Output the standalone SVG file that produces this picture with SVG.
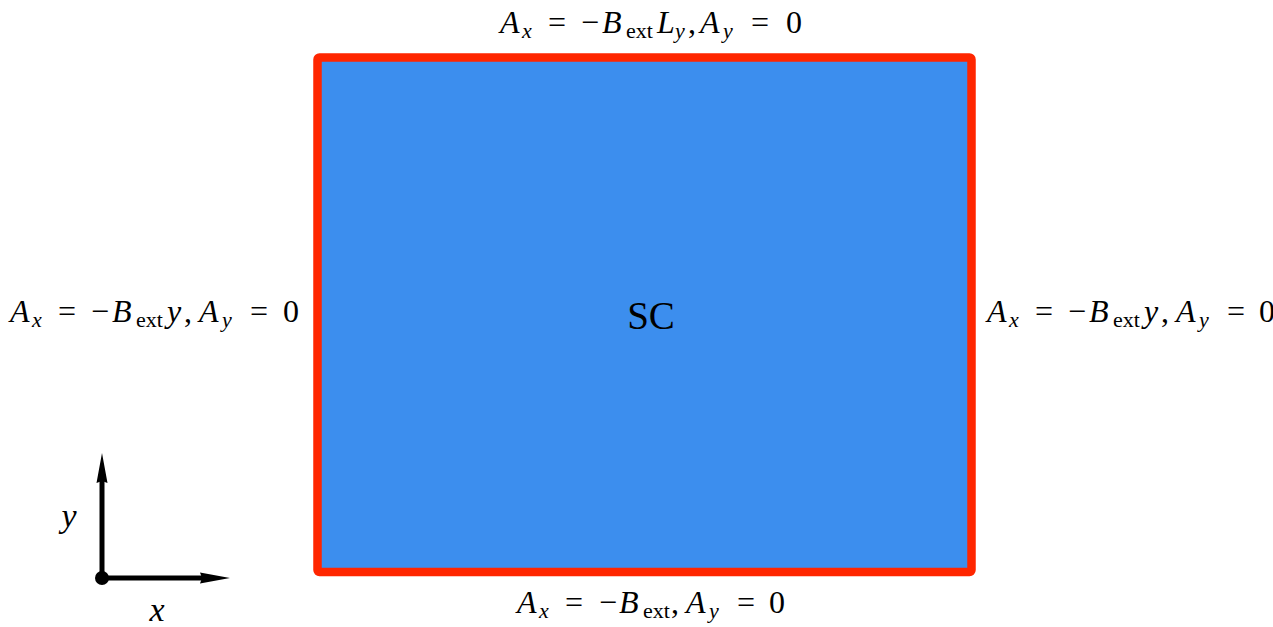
<svg xmlns="http://www.w3.org/2000/svg" width="1273" height="627" viewBox="0 0 1273 627">
<style>
text{fill:#000;font-family:"Liberation Serif","Times New Roman",serif;}
.lbl{font-size:32px;}
.i{font-style:italic;}
.s{font-size:22px;}
.ax{stroke:#000;stroke-width:5;fill:none;}
</style>
<defs>
<marker id="arr" markerUnits="userSpaceOnUse" markerWidth="32" markerHeight="14" refX="5" refY="6" orient="auto" overflow="visible">
<path d="M0,0.5 L30,6 L0,11.5 L2,6 Z" fill="#000"/>
</marker>
</defs>
<rect width="1273" height="627" fill="#fff"/>
<g id="sc">
<rect x="317.5" y="57.5" width="654" height="514.5" rx="2" fill="#3c8eee" stroke="#ff2600" stroke-width="8.5" stroke-linejoin="round"/>
<text x="651" y="329" font-size="39" text-anchor="middle">SC</text>
</g>
<g id="top-label">
<text class="lbl" y="33"><tspan class="i" x="500">A</tspan><tspan class="i s" x="522" y="38">x</tspan><tspan x="548" y="33">=</tspan><tspan x="581">−</tspan><tspan class="i" x="602">B</tspan><tspan class="s" x="626" y="38">ext</tspan><tspan class="i" x="657" y="33">L</tspan><tspan class="i s" x="675" y="38">y</tspan><tspan x="688" y="33">,</tspan><tspan class="i" x="700">A</tspan><tspan class="i s" x="723" y="38">y</tspan><tspan x="751" y="33">=</tspan><tspan x="786">0</tspan></text>
</g>
<g id="left-label">
<text class="lbl" y="322"><tspan class="i" x="10">A</tspan><tspan class="i s" x="32" y="327">x</tspan><tspan x="58" y="322">=</tspan><tspan x="91">−</tspan><tspan class="i" x="112">B</tspan><tspan class="s" x="136" y="327">ext</tspan><tspan class="i" x="167" y="322">y</tspan><tspan x="184">,</tspan><tspan class="i" x="199">A</tspan><tspan class="i s" x="222" y="327">y</tspan><tspan x="250" y="322">=</tspan><tspan x="283">0</tspan></text>
</g>
<g id="right-label">
<text class="lbl" y="322"><tspan class="i" x="987">A</tspan><tspan class="i s" x="1009" y="327">x</tspan><tspan x="1035" y="322">=</tspan><tspan x="1068">−</tspan><tspan class="i" x="1089">B</tspan><tspan class="s" x="1113" y="327">ext</tspan><tspan class="i" x="1144" y="322">y</tspan><tspan x="1161">,</tspan><tspan class="i" x="1176">A</tspan><tspan class="i s" x="1199" y="327">y</tspan><tspan x="1227" y="322">=</tspan><tspan x="1259">0</tspan></text>
</g>
<g id="bottom-label">
<text class="lbl" y="613"><tspan class="i" x="517">A</tspan><tspan class="i s" x="539" y="618">x</tspan><tspan x="565" y="613">=</tspan><tspan x="599">−</tspan><tspan class="i" x="619">B</tspan><tspan class="s" x="643" y="618">ext</tspan><tspan x="671" y="613">,</tspan><tspan class="i" x="686">A</tspan><tspan class="i s" x="709" y="618">y</tspan><tspan x="737" y="613">=</tspan><tspan x="769">0</tspan></text>
</g>
<g id="connectors">
<line class="ax" x1="102" y1="578" x2="102" y2="478" marker-end="url(#arr)"/>
<line class="ax" x1="102" y1="578" x2="205" y2="578" marker-end="url(#arr)"/>
<circle cx="102" cy="578" r="7" fill="#000"/>
</g>
<g id="axis-y-label">
<text class="i" x="69" y="527" font-size="34" text-anchor="middle">y</text>
</g>
<g id="axis-x-label">
<text class="i" x="157" y="621" font-size="34" text-anchor="middle">x</text>
</g>
</svg>
